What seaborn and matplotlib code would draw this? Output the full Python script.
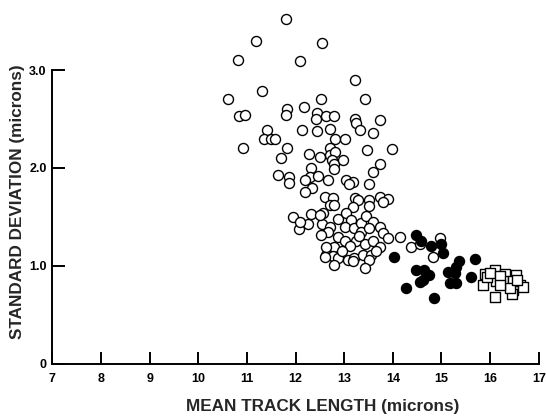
import matplotlib
matplotlib.use("Agg")
import matplotlib.pyplot as plt
import seaborn as sns
import pandas as pd

# Open circles
open_x = [11.19, 10.82, 11.31, 10.62, 10.84, 10.97, 11.41, 11.35, 11.49, 10.91,
          11.80, 12.54, 12.10, 13.22, 12.53, 13.42, 11.82, 11.81, 12.17, 12.44,
          12.42, 12.62, 12.79, 13.23, 13.25, 13.33, 13.74, 13.59, 12.14, 12.44,
          12.71, 11.57, 12.81, 13.02, 11.82, 11.71, 12.27, 12.51, 12.70, 12.71,
          12.82, 12.75, 12.80, 12.97, 12.80, 13.46, 13.99, 13.73, 13.60, 13.50,
          11.63, 11.86, 11.86, 12.32, 12.30, 12.19, 12.33, 12.19, 12.47, 12.66,
          13.03, 13.18, 13.10, 12.61, 12.77, 13.22, 13.29, 13.52, 13.73, 13.90,
          13.79, 12.70, 12.80, 13.18, 13.52, 12.07, 12.31, 12.56, 12.25, 12.54,
          12.70, 12.66, 12.53, 12.87, 13.04, 13.14, 13.01, 13.21, 13.35, 13.35,
          13.45, 13.59, 13.52, 13.73, 13.79, 13.90, 14.14, 12.87, 13.01, 13.25,
          13.11, 13.42, 13.59, 13.73, 12.80, 12.63, 12.77, 12.63, 12.87, 13.08,
          13.21, 13.18, 13.38, 13.55, 13.52, 12.80, 13.42, 14.38, 14.55, 14.96,
          14.82, 12.60, 12.50, 11.95, 12.10, 13.30, 13.65, 12.95]
open_y = [3.30, 3.10, 2.79, 2.70, 2.53, 2.54, 2.39, 2.30, 2.30, 2.20,
          3.52, 3.28, 3.09, 2.90, 2.70, 2.70, 2.60, 2.54, 2.62, 2.56,
          2.50, 2.53, 2.53, 2.50, 2.46, 2.39, 2.49, 2.36, 2.39, 2.38,
          2.40, 2.30, 2.30, 2.30, 2.20, 2.10, 2.14, 2.11, 2.20, 2.13,
          2.16, 2.08, 2.04, 2.08, 1.99, 2.18, 2.19, 2.04, 1.96, 1.84,
          1.93, 1.91, 1.85, 2.00, 1.91, 1.88, 1.80, 1.75, 1.92, 1.88,
          1.88, 1.86, 1.84, 1.70, 1.69, 1.69, 1.67, 1.67, 1.70, 1.68,
          1.65, 1.62, 1.62, 1.60, 1.61, 1.38, 1.53, 1.54, 1.43, 1.43,
          1.40, 1.35, 1.32, 1.48, 1.54, 1.47, 1.40, 1.39, 1.44, 1.35,
          1.51, 1.45, 1.39, 1.40, 1.34, 1.28, 1.29, 1.29, 1.25, 1.25,
          1.20, 1.22, 1.25, 1.19, 1.19, 1.11, 1.10, 1.19, 1.08, 1.06,
          1.08, 1.05, 1.11, 1.11, 1.06, 1.01, 0.98, 1.19, 1.22, 1.28,
          1.09, 1.09, 1.52, 1.50, 1.45, 1.30, 1.15, 1.15]

# Filled circles
filled_x = [14.48, 14.58, 14.03, 14.79, 14.99, 15.03, 15.68, 15.37, 15.30, 15.13,
            14.48, 14.65, 14.75, 14.62, 14.55, 14.27, 15.17, 15.30, 15.61, 14.84,
            15.27]
filled_y = [1.32, 1.25, 1.09, 1.20, 1.22, 1.13, 1.07, 1.05, 0.99, 0.94,
            0.96, 0.96, 0.91, 0.86, 0.83, 0.77, 0.82, 0.82, 0.89, 0.67,
            0.93]

# Open squares
square_x = [15.89, 15.86, 16.10, 16.13, 16.30, 16.34, 16.54, 16.61, 16.47, 16.44,
            16.68, 16.10, 15.93, 16.27, 16.47, 16.40, 16.00, 16.20, 16.55, 16.20]
square_y = [0.92, 0.80, 0.96, 0.85, 0.92, 0.82, 0.91, 0.80, 0.75, 0.71,
            0.78, 0.68, 0.89, 0.85, 0.84, 0.77, 0.93, 0.90, 0.86, 0.80]

x_ticks = [7, 8, 9, 10, 11, 12, 13, 14, 15, 16, 17]
y_ticks = [0, 1.0, 2.0, 3.0]
y_tick_labels = ["0", "1.0", "2.0", "3.0"]

sns.set_style("ticks")
plt.rcParams["font.family"] = ["Liberation Sans", "DejaVu Sans"]

fig = plt.figure(figsize=(5.46, 4.16), dpi=100)
ax = fig.add_axes([0.0958, 0.1257, 0.891, 0.847])

df_open = pd.DataFrame({"x": open_x, "y": open_y})
df_fill = pd.DataFrame({"x": filled_x, "y": filled_y})
df_sq = pd.DataFrame({"x": square_x, "y": square_y})

sns.scatterplot(data=df_open, x="x", y="y", ax=ax, marker="o", s=52,
                facecolor="white", edgecolor="black", linewidth=1.0, zorder=2)
sns.scatterplot(data=df_fill, x="x", y="y", ax=ax, marker="o", s=52,
                color="black", edgecolor="black", linewidth=1.0, zorder=3)
sns.scatterplot(data=df_sq, x="x", y="y", ax=ax, marker="s", s=58,
                facecolor="white", edgecolor="black", linewidth=1.0, zorder=3)

ax.set_xlim(7, 17)
ax.set_ylim(0, 3.6)
ax.set_xticks(x_ticks)
ax.set_xticklabels([str(t) for t in x_ticks], fontsize=9, fontweight="bold")
ax.set_yticks(y_ticks)
ax.set_yticklabels(y_tick_labels, fontsize=9, fontweight="bold")

ax.xaxis.set_ticks_position("bottom")
ax.yaxis.set_ticks_position("left")
ax.tick_params(axis="x", which="major", direction="in", length=9, width=1.4,
               color="black", labelcolor="black", pad=7)
ax.tick_params(axis="y", which="major", direction="in", length=9, width=1.4,
               color="black", labelcolor="black", pad=4)

for side in ["top", "right"]:
    ax.spines[side].set_visible(False)
for side in ["left", "bottom"]:
    ax.spines[side].set_color("black")
    ax.spines[side].set_linewidth(1.4)
ax.spines["left"].set_bounds(0, 3.0)

ax.set_xlabel("MEAN TRACK LENGTH (microns)", fontsize=12.3, fontweight="bold")
ax.set_ylabel("STANDARD DEVIATION (microns)", fontsize=12.3, fontweight="bold")
ax.xaxis.set_label_coords(0.556, -0.10)
ax.yaxis.set_label_coords(-0.056, 0.459)

fig.savefig("out.png", dpi=100)
